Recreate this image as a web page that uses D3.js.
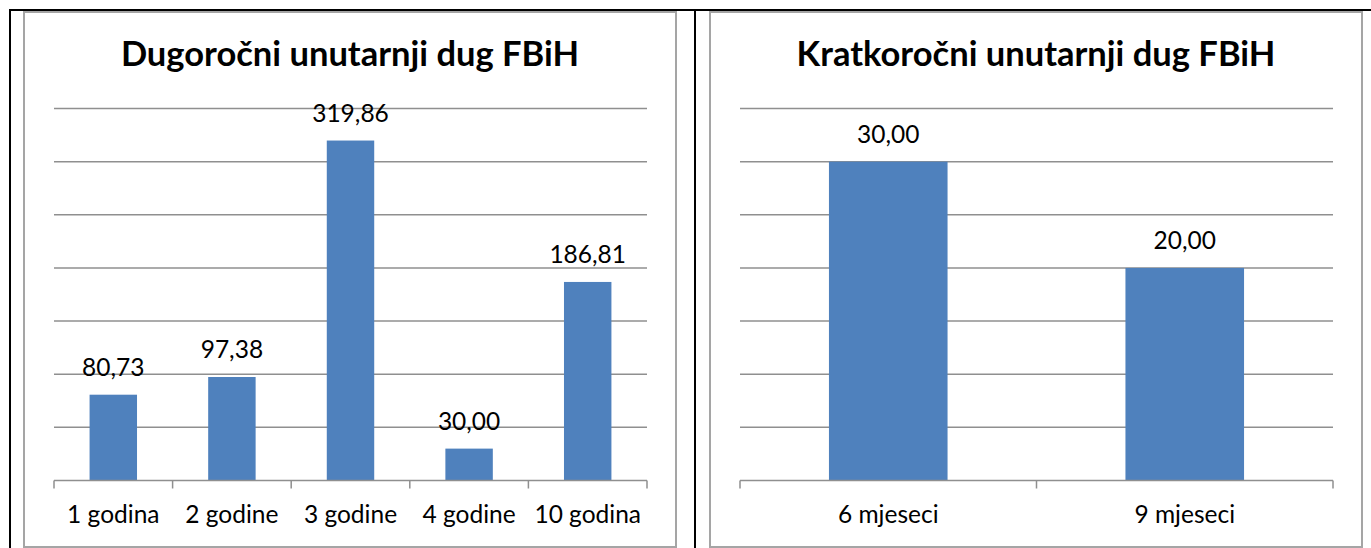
<!DOCTYPE html>
<html>
<head>
<meta charset="utf-8">
<script src="https://cdn.jsdelivr.net/npm/d3@7"></script>
<style>
  body { margin: 0; background: #fff; }
  svg { display: block; }
  .title { font-family: Lato, "Open Sans", sans-serif; font-weight: bold; font-size: 34.5px; fill: #000; }
  .lbl { font-family: Lato, "Open Sans", sans-serif; font-size: 24.5px; fill: #000; }
</style>
</head>
<body>
<div id="charts"></div>
<script>

// Dugoročni unutarnji dug
var longCategories = ['1 godina', '2 godine', '3 godine', '4 godine', '10 godina'];
var longValues = [80.73, 97.38, 319.86, 30.00, 186.81];
var longTicks = [0, 50, 100, 150, 200, 250, 300, 350];

// Kratkoročni unutarnji dug
var shortCategories = ['6 mjeseci', '9 mjeseci'];
var shortValues = [30.00, 20.00];
var shortTicks = [0, 5, 10, 15, 20, 25, 30, 35];

var titles = ['Dugoročni unutarnji dug FBiH', 'Kratkoročni unutarnji dug FBiH'];

var barColor = '#4F81BD';
var gridColor = '#8f8f8f';
var frameColor = '#a5a5a5';

var svg = d3.select('#charts').append('svg')
    .attr('width', 1371)
    .attr('height', 548);

/**
 * Formats value with decimal comma.
 */
var fmt = function(v) {
  return d3.format('.2f')(v).replace('.', ',');
};

/**
 * Draws one bar chart inside its box.
 *
 * @param box   {x, w}
 * @param title
 * @param categories
 * @param values
 * @param ticks
 */
var drawChart = function(box, title, categories, values, ticks) {
  var g = svg.append('g');

  // chart border
  g.append('rect')
      .attr('x', box.x)
      .attr('y', 12)
      .attr('width', box.w)
      .attr('height', 535)
      .attr('fill', '#fff')
      .attr('stroke', frameColor)
      .attr('stroke-width', 2);

  g.append('text')
      .attr('class', 'title')
      .attr('x', box.x + box.w / 2)
      .attr('y', 66)
      .attr('text-anchor', 'middle')
      .text(title);

  var left = box.x + 30, right = box.x + box.w - 29;

  var x = d3.scaleBand()
      .domain(categories)
      .range([left, right])
      .paddingInner(0.6)
      .paddingOuter(0.3);

  var y = d3.scaleLinear()
      .domain([ticks[0], ticks[ticks.length - 1]])
      .range([480.5, 108.5]);

  // gridlines
  g.selectAll('.grid')
      .data(ticks.slice(1))
      .enter().append('line')
      .attr('x1', left)
      .attr('x2', right)
      .attr('y1', function(d) { return y(d); })
      .attr('y2', function(d) { return y(d); })
      .attr('stroke', gridColor)
      .attr('stroke-width', 1.5);

  // bars
  g.selectAll('.bar')
      .data(values)
      .enter().append('rect')
      .attr('x', function(d, i) { return x(categories[i]); })
      .attr('width', x.bandwidth())
      .attr('y', function(d) { return y(d); })
      .attr('height', function(d) { return y(0) - y(d); })
      .attr('fill', barColor);

  // value labels
  g.selectAll('.val')
      .data(values)
      .enter().append('text')
      .attr('class', 'lbl')
      .attr('x', function(d, i) { return x(categories[i]) + x.bandwidth() / 2; })
      .attr('y', function(d) { return y(d) - 19; })
      .attr('text-anchor', 'middle')
      .text(function(d) { return fmt(d); });

  // category axis
  var axis = g.append('g')
      .attr('transform', 'translate(0,' + y(0) + ')')
      .call(d3.axisBottom(x).tickSize(0).tickPadding(0));
  axis.select('.domain').remove();
  axis.selectAll('text')
      .attr('class', 'lbl')
      .attr('dy', null)
      .attr('y', 42);

  g.append('line')
      .attr('x1', left)
      .attr('x2', right)
      .attr('y1', y(0))
      .attr('y2', y(0))
      .attr('stroke', gridColor)
      .attr('stroke-width', 1.5);

  var bounds = d3.range(categories.length + 1).map(function(i) {
    return left + i * x.step();
  });
  g.selectAll('.tk')
      .data(bounds)
      .enter().append('line')
      .attr('x1', function(d) { return d; })
      .attr('x2', function(d) { return d; })
      .attr('y1', y(0))
      .attr('y2', y(0) + 8)
      .attr('stroke', gridColor)
      .attr('stroke-width', 1.5);
};

drawChart({x: 24, w: 652}, titles[0], longCategories, longValues, longTicks);
drawChart({x: 710, w: 652}, titles[1], shortCategories, shortValues, shortTicks);

// outer black frame
svg.append('line').attr('x1', 9).attr('x2', 1371).attr('y1', 10).attr('y2', 10)
    .attr('stroke', '#000').attr('stroke-width', 2);
svg.append('line').attr('x1', 10).attr('x2', 10).attr('y1', 9).attr('y2', 548)
    .attr('stroke', '#000').attr('stroke-width', 2);
svg.append('line').attr('x1', 695).attr('x2', 695).attr('y1', 9).attr('y2', 548)
    .attr('stroke', '#000').attr('stroke-width', 2);

</script>
</body>
</html>
